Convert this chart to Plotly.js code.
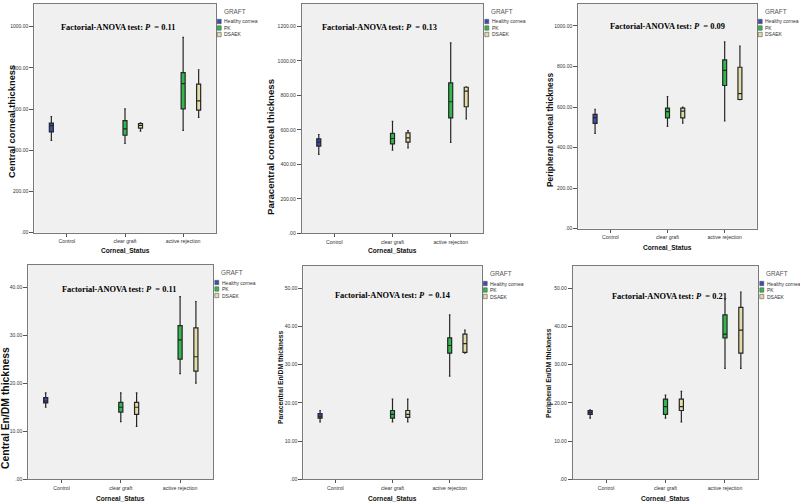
<!DOCTYPE html>
<html><head><meta charset="utf-8">
<script src="https://cdn.plot.ly/plotly-3.0.1.min.js"></script>
<style>html,body{margin:0;padding:0;background:#fff}#chart{width:800px;height:504px}</style>
</head><body><div id="chart"></div>
<script>
// ---------------- DATA ----------------
const categories = ['Control', 'clear graft', 'active rejection'];
const groupNames = ['Healthy cornea', 'PK', 'DSAEK'];
const xHealthy = ['Control'];
const xGraft = ['clear graft', 'active rejection'];

// each row: [lower whisker, Q1, median, Q3, upper whisker]
const centralCT_healthy = [[448, 489, 520, 532, 564]];
const centralCT_PK = [[433, 473, 504, 544, 601], [497, 601, 724, 777, 948]];
const centralCT_DSAEK = [[493, 508, 521, 530, 533], [560, 595, 640, 721, 791]];

const paracentralCT_healthy = [[458, 506, 529, 548, 573]];
const paracentralCT_PK = [[482, 519, 550, 580, 650], [527, 669, 763, 872, 1105]];
const paracentralCT_DSAEK = [[496, 529, 554, 583, 596], [663, 734, 825, 847, 850]];

const peripheralCT_healthy = [[470, 519, 548, 564, 589]];
const peripheralCT_PK = [[505, 546, 577, 595, 652], [531, 706, 781, 832, 921]];
const peripheralCT_DSAEK = [[521, 546, 580, 595, 600], [636, 637, 666, 796, 901]];

const centralEnDM_healthy = [[15, 15.9, 16.3, 17, 18]];
const centralEnDM_PK = [[12, 14, 15, 16, 18], [22, 25, 29, 32, 38]];
const centralEnDM_DSAEK = [[11, 13.5, 15, 16, 18], [20, 22.5, 25.5, 31.5, 37]];

const paracentralEnDM_healthy = [[15, 16, 16.5, 17.2, 18]];
const paracentralEnDM_PK = [[15, 16, 17, 18, 21], [27, 33, 35, 37, 43]];
const paracentralEnDM_DSAEK = [[15, 16.2, 17, 18, 21], [33, 33.2, 35.5, 38, 39]];

const peripheralEnDM_healthy = [[16, 17, 17.5, 18, 18.2]];
const peripheralEnDM_PK = [[16, 17, 19, 21, 22], [29, 37, 38, 43, 47]];
const peripheralEnDM_DSAEK = [[15, 18, 19, 21, 23], [29, 33, 39, 45, 49]];

const pValues = ['0.11', '0.13', '0.09', '0.11', '0.14', '0.21'];
const yTitles = ['Central corneal thickness', 'Paracentral corneal thickness', 'Peripheral corneal thickness',
                 'Central En/DM thickness', 'Paracentral En/DM thickness', 'Peripheral En/DM thickness'];

const tickValsCT = [0, 200, 400, 600, 800, 1000];
const tickTextCT = ['.00', '200.00', '400.00', '600.00', '800.00', '1000.00'];
const tickValsCT2 = [0, 200, 400, 600, 800, 1000, 1200];
const tickTextCT2 = ['.00', '200.00', '400.00', '600.00', '800.00', '1000.00', '1200.00'];
const tickValsEn4 = [0, 10, 20, 30, 40];
const tickTextEn4 = ['.00', '10.00', '20.00', '30.00', '40.00'];
const tickValsEn5 = [0, 10, 20, 30, 40, 50];
const tickTextEn5 = ['.00', '10.00', '20.00', '30.00', '40.00', '50.00'];

// ---------------- STYLE / GEOMETRY ----------------
const groupColors = ['#3b4db5', '#2fb94c', '#e3dca6'];
const W = 800, H = 504;
const SANS = 'Liberation Sans, Arial, sans-serif';
const SERIF = 'Liberation Serif, Times New Roman, serif';

const panels = [
  {data: [centralCT_healthy, centralCT_PK, centralCT_DSAEK], tv: tickValsCT, tt: tickTextCT,
   L: 34.3, R: 215.7, T: 4, B: 232.7, ymax: 1110,
   yt: {x: 12, y: 122, s: 9.3}, an: {x: 118, y: 27}, xt: {y: 250}},
  {data: [paracentralCT_healthy, paracentralCT_PK, paracentralCT_DSAEK], tv: tickValsCT2, tt: tickTextCT2,
   L: 301.7, R: 483.3, T: 4, B: 233.3, ymax: 1330,
   yt: {x: 270, y: 147, s: 9.6}, an: {x: 379, y: 27}, xt: {y: 250}},
  {data: [peripheralCT_healthy, peripheralCT_PK, peripheralCT_DSAEK], tv: tickValsCT, tt: tickTextCT,
   L: 578.3, R: 756.7, T: 4, B: 228.7, ymax: 1108,
   yt: {x: 550, y: 130, s: 8.4}, an: {x: 667, y: 26}, xt: {y: 247}},
  {data: [centralEnDM_healthy, centralEnDM_PK, centralEnDM_DSAEK], tv: tickValsEn4, tt: tickTextEn4,
   L: 28.3, R: 213.3, T: 265, B: 479.3, ymax: 44.6,
   yt: {x: 5, y: 408, s: 10.4}, an: {x: 119, y: 289}, xt: {y: 498}},
  {data: [paracentralEnDM_healthy, paracentralEnDM_PK, paracentralEnDM_DSAEK], tv: tickValsEn5, tt: tickTextEn5,
   L: 303.3, R: 481.7, T: 266, B: 479.3, ymax: 55.8,
   yt: {x: 280, y: 377, s: 6.8}, an: {x: 393, y: 295}, xt: {y: 498}},
  {data: [peripheralEnDM_healthy, peripheralEnDM_PK, peripheralEnDM_DSAEK], tv: tickValsEn5, tt: tickTextEn5,
   L: 572.7, R: 758.3, T: 266, B: 479.3, ymax: 55.8,
   yt: {x: 549, y: 373, s: 6.8}, an: {x: 669, y: 296}, xt: {y: 498}}
];

const px = v => v / W;
const py = v => 1 - v / H;

const traces = [];
const layout = {
  width: W, height: H, margin: {l: 0, r: 0, t: 0, b: 0},
  paper_bgcolor: '#ffffff', plot_bgcolor: '#f0f0f0',
  boxmode: 'group', boxgap: 0.2, boxgroupgap: 0.74,
  showlegend: false, annotations: [], shapes: [],
  font: {family: SANS, color: '#333'}
};

panels.forEach((p, i) => {
  const n = i + 1;
  const xa = n === 1 ? 'x' : 'x' + n;
  const ya = n === 1 ? 'y' : 'y' + n;
  const xs = [xHealthy, xGraft, xGraft];
  p.data.forEach((stats, g) => {
    traces.push({
      type: 'box', name: groupNames[g], x: xs[g],
      alignmentgroup: 'panel' + n, offsetgroup: 'g' + g,
      lowerfence: stats.map(s => s[0]), q1: stats.map(s => s[1]), median: stats.map(s => s[2]),
      q3: stats.map(s => s[3]), upperfence: stats.map(s => s[4]),
      fillcolor: groupColors[g], line: {color: '#262626', width: 1.2},
      whiskerwidth: 0.4, boxpoints: false, xaxis: xa, yaxis: ya, hoverinfo: 'skip'
    });
  });
  layout['xaxis' + (n === 1 ? '' : n)] = {
    domain: [px(p.L), px(p.R)], anchor: ya, type: 'category',
    categoryorder: 'array', categoryarray: categories, range: [-0.56, 2.56],
    ticks: 'outside', ticklen: 3, tickcolor: '#555', tickwidth: 1,
    tickfont: {size: 5.2, color: '#333', family: SANS},
    showline: true, mirror: true, linecolor: '#7a7a7a', linewidth: 1,
    showgrid: false, zeroline: false, fixedrange: true
  };
  layout['yaxis' + (n === 1 ? '' : n)] = {
    domain: [py(p.B), py(p.T)], anchor: xa, range: [0, p.ymax],
    tickmode: 'array', tickvals: p.tv, ticktext: p.tt,
    ticks: 'outside', ticklen: 4, tickcolor: '#555', tickwidth: 1,
    tickfont: {size: 5, color: '#333', family: SANS},
    showline: true, mirror: true, linecolor: '#7a7a7a', linewidth: 1,
    showgrid: false, zeroline: false, fixedrange: true
  };
  layout.annotations.push({text: '<b>' + yTitles[i] + '</b>', xref: 'paper', yref: 'paper',
    x: px(p.yt.x), y: py(p.yt.y), textangle: -90, showarrow: false,
    font: {size: p.yt.s, color: '#111', family: SANS}, xanchor: 'center', yanchor: 'middle'});
  layout.annotations.push({text: '<b>Corneal_Status</b>', xref: 'paper', yref: 'paper',
    x: px((p.L + p.R) / 2), y: py(p.xt.y), showarrow: false,
    font: {size: 6.6, color: '#111', family: SANS}, xanchor: 'center', yanchor: 'middle'});
  layout.annotations.push({text: '<b>Factorial-ANOVA test: <i>P</i>  = ' + pValues[i] + '</b>',
    xref: 'paper', yref: 'paper', x: px(p.an.x), y: py(p.an.y), showarrow: false,
    font: {size: 8.4, color: '#000', family: SERIF}, xanchor: 'center', yanchor: 'middle'});
  layout.annotations.push({text: 'GRAFT', xref: 'paper', yref: 'paper',
    x: px(p.R + 19), y: py(p.T + 7), showarrow: false,
    font: {size: 6.4, color: '#555', family: SANS}, xanchor: 'center', yanchor: 'middle'});
  groupNames.forEach((g, k) => {
    const cy = p.T + 17.5 + k * 6.5;
    layout.shapes.push({type: 'rect', xref: 'paper', yref: 'paper',
      x0: px(p.R + 1.5), x1: px(p.R + 5.5), y0: py(cy + 2.2), y1: py(cy - 2.2),
      fillcolor: groupColors[k], line: {color: '#555', width: 0.6}});
    layout.annotations.push({text: g, xref: 'paper', yref: 'paper',
      x: px(p.R + 6.5), y: py(cy), showarrow: false,
      font: {size: 5, color: '#333', family: SANS}, xanchor: 'left', yanchor: 'middle'});
  });
});

Plotly.newPlot('chart', traces, layout, {displayModeBar: false, staticPlot: true});
</script>
</body></html>
